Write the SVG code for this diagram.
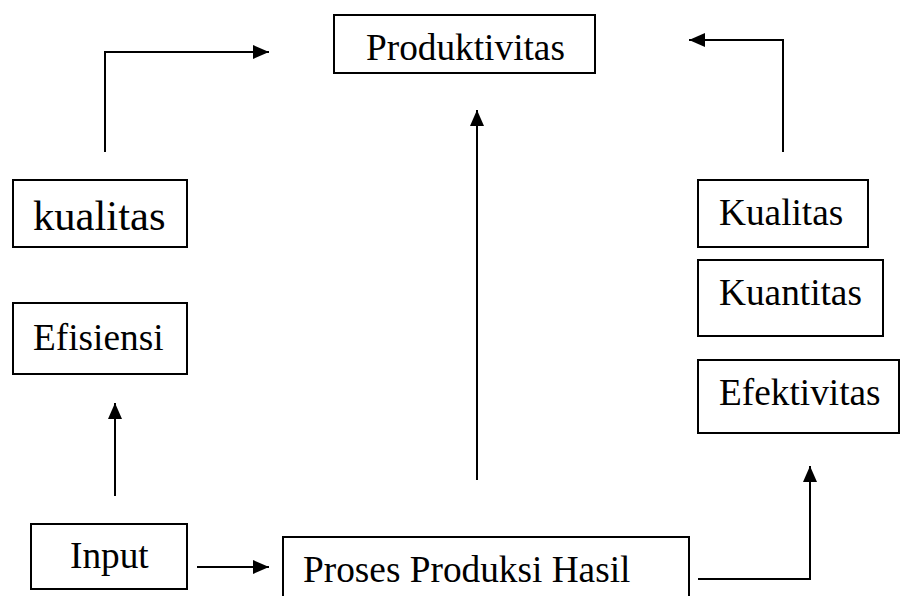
<svg xmlns="http://www.w3.org/2000/svg" width="901" height="596" viewBox="0 0 901 596">
<style>
.box{fill:#fff;stroke:#000;stroke-width:2}
.t{font-family:"Liberation Serif","Times New Roman",serif;font-size:37.3px;fill:#000}
.c{fill:none;stroke:#000;stroke-width:2}
</style>
<defs>
<marker id="ah" markerWidth="16" markerHeight="14" refX="16" refY="7" orient="auto" markerUnits="userSpaceOnUse">
<path d="M0,0 L16,7 L0,14 Z" fill="#000"/>
</marker>
</defs>
<rect width="901" height="596" fill="#fff"/>
<g id="produktivitas"><rect class="box" x="334" y="15" width="261" height="58"/><text class="t" x="366" y="60">Produktivitas</text></g>
<g id="kualitas-left"><rect class="box" x="13" y="180" width="174" height="67"/><text class="t" x="33" y="230" style="font-size:42.6px">kualitas</text></g>
<g id="efisiensi"><rect class="box" x="13" y="303" width="174" height="71"/><text class="t" x="33" y="350">Efisiensi</text></g>
<g id="input"><rect class="box" x="31" y="524" width="156" height="65"/><text class="t" x="70" y="568">Input</text></g>
<g id="proses"><rect class="box" x="283" y="537" width="406" height="70"/><text class="t" x="303" y="582">Proses Produksi Hasil</text></g>
<g id="kualitas-right"><rect class="box" x="698" y="180" width="170" height="67"/><text class="t" x="719" y="225">Kualitas</text></g>
<g id="kuantitas"><rect class="box" x="698" y="260" width="185" height="76"/><text class="t" x="719" y="305">Kuantitas</text></g>
<g id="efektivitas"><rect class="box" x="698" y="360" width="201" height="73"/><text class="t" x="719" y="405">Efektivitas</text></g>
<g id="connectors">
<path class="c" d="M105,152 V52 H269" marker-end="url(#ah)"/>
<path class="c" d="M783,152 V40 H689" marker-end="url(#ah)"/>
<path class="c" d="M477,480 V110" marker-end="url(#ah)"/>
<path class="c" d="M115,496 V403" marker-end="url(#ah)"/>
<path class="c" d="M197,567 H269" marker-end="url(#ah)"/>
<path class="c" d="M698,579 H810 V466" marker-end="url(#ah)"/>
</g>
</svg>
